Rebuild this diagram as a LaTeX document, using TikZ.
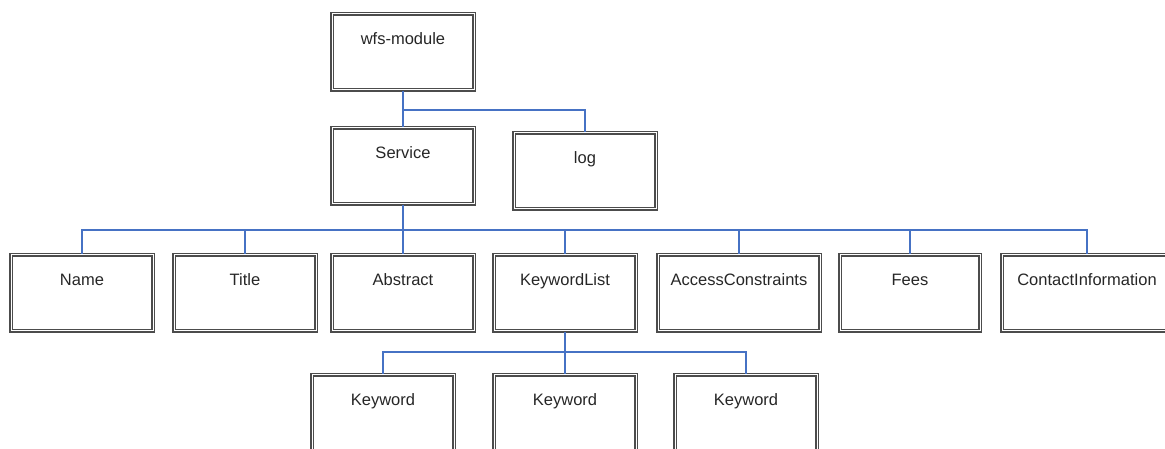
\documentclass[tikz,border=0pt]{standalone}
\usepackage{fontspec}
\setmainfont{Liberation Sans}
\definecolor{linkblue}{RGB}{70,114,196}
\begin{document}
\begin{tikzpicture}[x=1pt,y=-1pt,
		box/.style={draw=black!70,double=white,double distance=1pt,line width=1.8pt,anchor=north,minimum width=#1,inner sep=0pt,text height=31pt,text depth=45pt,text=black!85,font=\fontsize{16.5}{18}\selectfont},
		box/.default=142pt,
		link/.style={draw=linkblue,line width=1.2pt}]
			\path[use as bounding box,clip] (0,0) rectangle (1165,449);
			\node[box] (wfs) at (403,13) {wfs-module};
			\node[box] (service) at (403,127) {Service};
			\node[box] (log) at (585,132) {log};
			\node[box] (name) at (82,254) {Name};
			\node[box] (title) at (245,254) {Title};
			\node[box] (abstract) at (403,254) {Abstract};
			\node[box] (keywordlist) at (565,254) {KeywordList};
			\node[box=162pt] (access) at (739,254) {AccessConstraints};
			\node[box=140pt] (fees) at (910,254) {Fees};
			\node[box=170pt] (contact) at (1087,254) {ContactInformation};
			\node[box] (kw1) at (383,374) {Keyword};
			\node[box] (kw2) at (565,374) {Keyword};
			\node[box] (kw3) at (746,374) {Keyword};
			\coordinate (fork1) at (403,110);
			\coordinate (fork2) at (403,230);
			\coordinate (fork3) at (565,352);
			\draw[link] (wfs.south) -- (service.north);
			\draw[link] (fork1) -| (log.north);
			\draw[link] (service.south) -- (fork2);
			\foreach \n in {name,title,abstract,keywordlist,access,fees,contact}
				\draw[link] (fork2) -| (\n.north);
			\draw[link] (keywordlist.south) -- (fork3);
			\foreach \n in {kw1,kw2,kw3}
				\draw[link] (fork3) -| (\n.north);
		\end{tikzpicture}
\end{document}
